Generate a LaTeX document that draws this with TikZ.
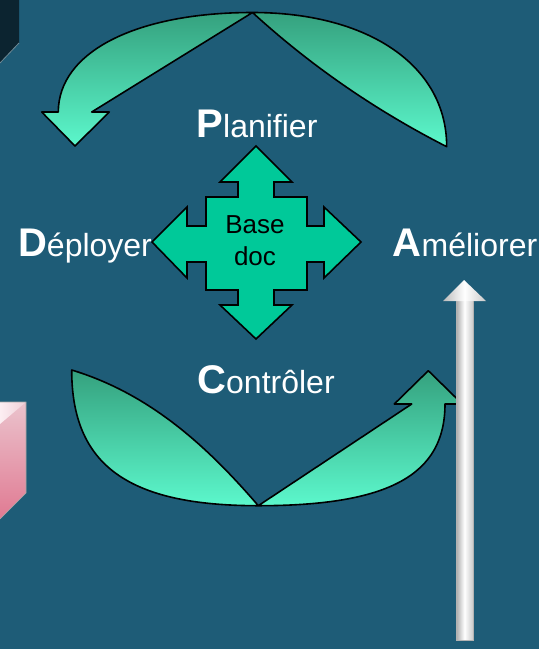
\documentclass[tikz,border=0pt]{standalone}
\usepackage{fontspec}
\setmainfont{Liberation Sans}
\definecolor{bg}{HTML}{1E5C77}
\definecolor{corner}{HTML}{0C2430}
\definecolor{cornerEdge}{HTML}{6F8A96}
\definecolor{greenTop}{HTML}{35A17E}
\definecolor{greenBot}{HTML}{5CF8CC}
\definecolor{crossFill}{HTML}{00C999}
\definecolor{pinkTop}{HTML}{EBC3CD}
\definecolor{pinkBot}{HTML}{E07A92}
\definecolor{pinkLight}{HTML}{FCEEF2}
\definecolor{shaftDark}{HTML}{A9A9A9}
\definecolor{shaftLight}{HTML}{C9C9C9}
\tikzset{
  cyclearrow/.style={top color=greenTop, bottom color=greenBot, draw=black,
    line width=1.6pt, line join=round},
  stagelabel/.style={anchor=base, inner sep=0pt, text=white,
    font=\fontsize{32}{32}\selectfont},
}
\begin{document}
\begin{tikzpicture}[x=1pt,y=-1pt]
% background
\fill[bg] (0,0) rectangle (539,649);
\useasboundingbox (0,0) rectangle (539,649);

% dark panel in the upper left corner
\fill[corner] (0,0) -- (19,0) -- (19,43) -- (0,63) -- cycle;
\draw[cornerEdge, line width=0.8pt] (19,43) -- (0,63);

% pink block on the left edge
\shade[top color=pinkTop, bottom color=pinkBot] (0,402) -- (26,402) -- (26,493) -- (0,519) -- cycle;
\shade[left color=pinkLight, right color=pinkTop!80!white] (0,402) -- (26,402) -- (0,424) -- cycle;
\draw[gray!70, line width=0.6pt] (0,402) -- (26,402) -- (26,493) -- (0,519);

% upper curved arrow (towards Déployer)
\shadedraw[cyclearrow]
  (58.3,112) .. controls (58.3,52) and (136,12.5) .. (252.5,12.5)
  .. controls (369,12.5) and (446.7,66) .. (446.7,146.7)
  .. controls (376,110.6) and (311,66) .. (252.5,12.5)
  -- (91.7,112) -- (109.3,112) -- (75,146) -- (41.7,112) -- cycle;

% lower curved arrow (towards Améliorer)
\shadedraw[cyclearrow]
  (71.7,370) .. controls (71.7,465) and (127.7,505.7) .. (258.3,505.7)
  .. controls (389,505.7) and (445,475) .. (445,404)
  -- (462.3,404) -- (428.3,370.7) -- (394.3,404) -- (411.7,404)
  -- (258.3,505.7)
  .. controls (207,446) and (149.6,393.6) .. (71.7,370) -- cycle;

% white upward arrow
\shade[left color=shaftDark, right color=shaftLight, middle color=white]
  (456,300) rectangle (473,640);
\shade[left color=shaftDark!80, right color=shaftLight, middle color=white]
  (443,301) -- (464,280) -- (486,301) -- cycle;
\draw[gray!60, line width=0.5pt] (456,301) -- (456,640) -- (473,640) -- (473,301);

% four-way arrow
\filldraw[fill=crossFill, draw=black, line width=1.6pt, line join=miter]
  (256,146) -- (292,182) -- (274,182) -- (274,197) -- (307,197) -- (307,226)
  -- (324,226) -- (324,207) -- (361,242) -- (324,278) -- (324,262)
  -- (307,262) -- (307,290) -- (274,290) -- (274,305) -- (292,305)
  -- (256,339) -- (220,305) -- (238,305) -- (238,290) -- (206,290)
  -- (206,262) -- (187,262) -- (187,278) -- (152,242) -- (187,207)
  -- (187,226) -- (206,226) -- (206,197) -- (238,197) -- (238,182)
  -- (220,182) -- cycle;
\node[align=center, inner sep=0pt, text=black,
      font=\fontsize{26}{32.3}\selectfont] (basedoc) at (255,241) {Base\\doc};

% stage labels
\node[stagelabel] (planifier) at (257,137) {{\fontsize{40}{40}\selectfont\bfseries P}lanifier};
\node[stagelabel] (deployer) at (85,256) {{\fontsize{40}{40}\selectfont\bfseries D}éployer};
\node[stagelabel] (ameliorer) at (465,256) {{\fontsize{40}{40}\selectfont\bfseries A}méliorer};
\node[stagelabel] (controler) at (266,393) {{\fontsize{40}{40}\selectfont\bfseries C}ontrôler};
\end{tikzpicture}
\end{document}
